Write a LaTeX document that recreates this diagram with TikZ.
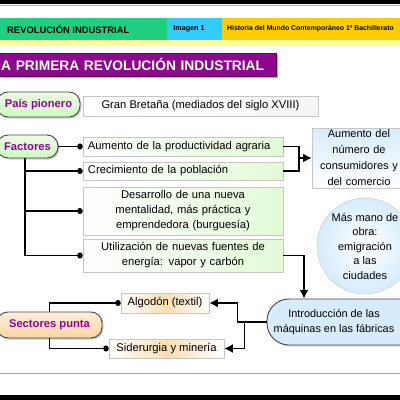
\documentclass[tikz,border=0pt]{standalone}
\usepackage{fontspec}
\setmainfont{Liberation Sans}
\usetikzlibrary{arrows.meta,shadows}

\definecolor{hdrgreen}{RGB}{30,208,128}
\definecolor{hdrcyan}{RGB}{51,204,255}
\definecolor{hdrorange}{RGB}{255,204,0}
\definecolor{hdryellow}{RGB}{255,255,153}
\definecolor{titlepurple}{RGB}{140,8,140}
\definecolor{tagtext}{RGB}{150,0,150}
\definecolor{tagedge}{RGB}{70,70,70}
\definecolor{palegreen}{RGB}{226,250,214}
\definecolor{paleblue}{RGB}{214,236,252}
\definecolor{paleorange}{RGB}{253,222,180}

\newcommand\boxfont{\fontsize{11.2}{15}\selectfont}
\newcommand\tagfont{\fontsize{11.2}{13}\selectfont\bfseries}

\tikzset{
  tag/.style={draw=tagedge, line width=0.9pt, rounded corners=11pt,
    top color=palegreen!60, bottom color=palegreen!90!green,
    text=tagtext, font=\tagfont, inner sep=0pt,
    drop shadow={shadow xshift=1.5pt, shadow yshift=-1.5pt, fill=gray!80}},
  textbox/.style={draw=gray!45, line width=0.6pt, inner sep=0pt, font=\boxfont},
  factbox/.style={textbox, left color=white, right color=palegreen},
  conn/.style={line width=1.7pt, -{Circle[length=5.5pt,width=6pt]}},
  plain/.style={line width=1.7pt},
  bigarrow/.style={line width=1.7pt, -{Latex[length=8.5pt,width=9pt]}}
}

\begin{document}
\begin{tikzpicture}[x=1pt,y=-1pt]
  \useasboundingbox (0,0) rectangle (400,400);
  \clip (0,0) rectangle (400,400);

  % frame of the screen
  \fill[black] (0,0) rectangle (400,4);
  \draw[gray!60, line width=1pt] (0,5.5) -- (400,5.5);
  \draw[gray!70, line width=1pt] (0,373) -- (400,373);
  \fill[black] (0,395) rectangle (400,400);

  % header bar
  \fill[hdrgreen] (0,18) rectangle (167,40);
  \fill[hdrcyan] (167,18) rectangle (222,40);
  \fill[hdrorange] (222,18) rectangle (400,40);
  \fill[hdryellow] (0,40) rectangle (400,46);
  \node[anchor=west, inner sep=0pt, font=\fontsize{9.4}{11}\selectfont\bfseries] (hdrtema) at (7,29) {REVOLUCIÓN INDUSTRIAL};
  \node[inner sep=0pt, font=\fontsize{7.2}{9}\selectfont\bfseries] (hdrimg) at (189,29) {Imagen 1};
  \node[anchor=west, inner sep=0pt, font=\fontsize{6.9}{9}\selectfont\bfseries] (hdrcurso) at (227,29) {Historia del Mundo Contemporáneo 1º Bachillerato};

  % title
  \node[anchor=west, fill=titlepurple, draw=titlepurple!70!black, text=white,
    font=\fontsize{13.8}{16}\selectfont\bfseries, inner xsep=2pt, inner ysep=0pt,
    text width=273pt, minimum height=23pt,
    drop shadow={shadow xshift=2pt, shadow yshift=-2pt, fill=gray!80!black}]
    (ttl) at (-1,64.5) {A PRIMERA REVOLUCIÓN INDUSTRIAL};

  % pais pionero
  \node[tag, minimum width=83pt, minimum height=25pt] (pais) at (38.5,104.5) {País pionero};
  \node[textbox, left color=white, right color=gray!8, minimum width=235pt, minimum height=20pt] (gran) at (200.5,106) {Gran Bretaña (mediados del siglo XVIII)};

  % factores
  \node[tag, minimum width=61pt, minimum height=23pt] (fact) at (27.5,146.5) {Factores};
  \node[factbox, minimum width=200pt, minimum height=19pt, text width=190pt, align=left] (aum) at (183,146.5) {Aumento de la productividad agraria};
  \node[factbox, minimum width=200pt, minimum height=18pt, text width=190pt, align=left] (crec) at (183,171) {Crecimiento de la población};
  \node[factbox, minimum width=200pt, minimum height=48pt, text width=196pt, align=center] (desa) at (183,211) {Desarrollo de una nueva\\mentalidad, más práctica y\\emprendedora (burguesía)};
  \node[factbox, minimum width=200pt, minimum height=33pt, text width=196pt, align=center] (util) at (183,255.5) {Utilización de nuevas fuentes de\\energía: vapor y carbón};

  % consecuencias
  \node[textbox, top color=paleblue, bottom color=white, minimum width=94pt, minimum height=60pt, text width=94pt, align=center,
    font=\fontsize{11}{16}\selectfont] (cons) at (359,158) {Aumento del\\número de\\consumidores y\\del comercio};
  \node[circle, draw=gray!35, line width=0.6pt, inner color=white, outer color=paleblue, minimum size=96pt, inner sep=0pt, align=center,
    font=\fontsize{11}{14.5}\selectfont] (mano) at (365,246) {Más mano de\\obra:\\emigración\\a las\\ciudades};
  \node[draw=tagedge, line width=0.9pt, rounded corners=22pt, fill=paleblue, minimum width=156pt, minimum height=46pt, inner sep=0pt,
    drop shadow={shadow xshift=1.5pt, shadow yshift=-1.5pt, fill=gray!60},
    label={[xshift=-11pt, align=center, font=\fontsize{10.9}{15}\selectfont]center:Introducción de las\\máquinas en las fábricas}] (intro) at (345,322) {};

  % sectores punta
  \node[tag, top color=paleorange!50, bottom color=paleorange!90!orange, minimum width=105pt, minimum height=26pt] (sect) at (49.5,325) {Sectores punta};
  \node[textbox, left color=white, right color=white, middle color=paleorange, minimum width=88pt, minimum height=20pt] (algo) at (165,303) {Algodón (textil)};
  \node[textbox, left color=white, right color=white, middle color=paleorange, minimum width=115pt, minimum height=19pt] (side) at (166.5,348.5) {Siderurgia y minería};

  % connectors
  \draw[conn] (fact.east) -- (aum.west);
  \draw[conn] ([xshift=-2.5pt]fact.south) |- (crec.west);
  \draw[conn] ([xshift=-2.5pt]fact.south) |- (desa.west);
  \draw[conn] ([xshift=-2.5pt]fact.south) |- (util.west);

  \coordinate (brk) at (299,158);
  \draw[plain] (aum.east) -| (brk) |- (crec.east);
  \draw[bigarrow] (brk) -- (cons.west);

  \draw[bigarrow] (util.east) -| ([xshift=-41pt]intro.north);
  \draw[bigarrow] (intro.west) -- ++(-29,0) |- (algo.east);
  \draw[bigarrow] ([xshift=-22pt]intro.west) |- (side.east);

  \draw[conn] (sect.north) |- (algo.west);
  \draw[conn] (sect.south) |- (side.west);
\end{tikzpicture}
\end{document}
